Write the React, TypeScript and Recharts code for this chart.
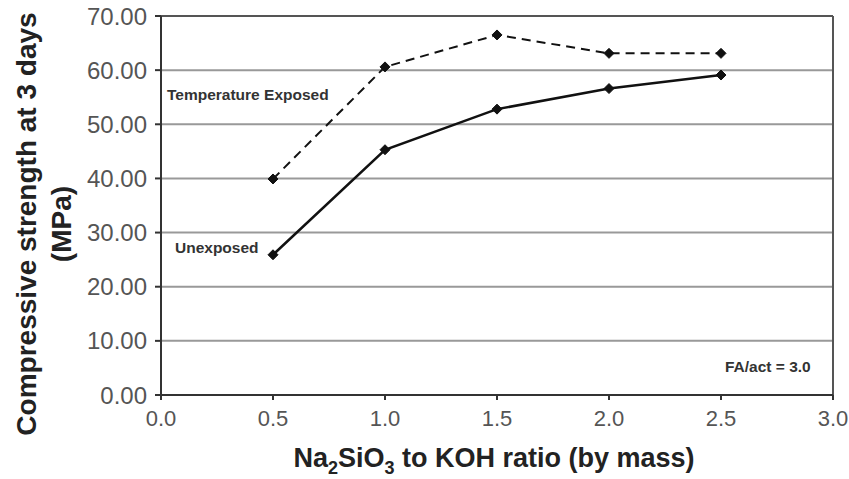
import { LineChart, Line, XAxis, YAxis, CartesianGrid, ReferenceLine } from 'recharts';

const ratios = [0.5, 1.0, 1.5, 2.0, 2.5];
const exposed = [39.9, 60.6, 66.5, 63.1, 63.1];
const unexposed = [25.9, 45.3, 52.8, 56.6, 59.1];
const xTicks = [0, 0.5, 1.0, 1.5, 2.0, 2.5, 3.0];
const yTicks = [0, 10, 20, 30, 40, 50, 60, 70];

const data = ratios.map((r, i) => ({ ratio: r, exposed: exposed[i], unexposed: unexposed[i] }));

const FONT = 'Arial, "Liberation Sans", Helvetica, sans-serif';

// small filled diamond marker
const Diamond = (props: any) => {
    const { cx, cy } = props;
    if (cx == null || cy == null) return null;
    const s = 5;
    return (
        <polygon
            points={`${cx},${cy - s} ${cx + s},${cy} ${cx},${cy + s} ${cx - s},${cy}`}
            fill="#111"
            stroke="#111"
        />
    );
};

const App = () => {
    return (
        <div style={{ position: 'absolute', left: 0, top: 0, width: 849, height: 479, background: '#fff', fontFamily: FONT }}>
            <LineChart width={849} height={479} data={data} margin={{ top: 16, right: 16, left: 0, bottom: 44 }}>
                <CartesianGrid vertical={false} stroke="#999" strokeWidth={2} />
                <XAxis
                    type="number"
                    dataKey="ratio"
                    domain={[0, 3]}
                    ticks={xTicks}
                    tickFormatter={(v) => v.toFixed(1)}
                    height={40}
                    stroke="#333"
                    strokeWidth={2}
                    tickSize={5}
                    tickMargin={10}
                    tick={{ fill: '#555', fontSize: 22, fontFamily: FONT }}
                />
                <YAxis
                    type="number"
                    domain={[0, 70]}
                    ticks={yTicks}
                    tickFormatter={(v) => v.toFixed(2)}
                    width={161}
                    stroke="#333"
                    strokeWidth={2}
                    tickSize={6}
                    tickMargin={8}
                    tick={{ fill: '#555', fontSize: 24, fontFamily: FONT }}
                />
                <ReferenceLine y={70} stroke="#555" strokeWidth={2} />
                <ReferenceLine x={3} stroke="#555" strokeWidth={2} />
                <Line
                    dataKey="exposed"
                    stroke="#111"
                    strokeWidth={2}
                    strokeDasharray="9 6"
                    dot={<Diamond />}
                    isAnimationActive={false}
                />
                <Line
                    dataKey="unexposed"
                    stroke="#111"
                    strokeWidth={2.5}
                    dot={<Diamond />}
                    isAnimationActive={false}
                />
            </LineChart>
            <svg width={849} height={479} style={{ position: 'absolute', left: 0, top: 0, pointerEvents: 'none' }}>
                <g fontFamily={FONT} fontWeight="bold" fill="#222">
                    <text x={26} y={224} fontSize={28} textAnchor="middle" dominantBaseline="central" transform="rotate(-90 26 224)">
                        Compressive strength at 3 days
                    </text>
                    <text x={61} y={224} fontSize={28} textAnchor="middle" dominantBaseline="central" transform="rotate(-90 61 224)">
                        (MPa)
                    </text>
                    <text x={494} y={467} fontSize={27} textAnchor="middle">
                        Na<tspan fontSize={18} dy={7}>2</tspan>
                        <tspan dy={-7}>SiO</tspan>
                        <tspan fontSize={18} dy={7}>3</tspan>
                        <tspan dy={-7}> to KOH ratio (by mass)</tspan>
                    </text>
                    <text x={167} y={100} fontSize={15.5} fill="#333">Temperature Exposed</text>
                    <text x={175} y={253} fontSize={15.5} fill="#333">Unexposed</text>
                    <text x={725} y={372} fontSize={15.5} fill="#333">FA/act = 3.0</text>
                </g>
            </svg>
        </div>
    );
};

export default App;
